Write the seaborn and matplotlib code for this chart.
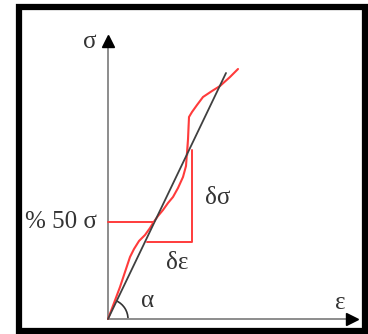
import numpy as np
import pandas as pd
import matplotlib
matplotlib.use('Agg')
import matplotlib.pyplot as plt
from matplotlib.patches import Rectangle, Arc
import seaborn as sns

# curva tensão-deformação
eps_curva = [0, 6, 12, 17, 22, 26, 31, 37, 42, 45, 50, 55, 60, 65, 70, 75, 78, 80,
             80, 80, 81, 84, 89, 95, 104, 112, 122, 130]
sig_curva = [0, 16, 32, 47, 62, 70, 78, 84, 91, 96, 103, 109, 116, 122, 131, 142, 153, 164,
             180, 195, 202, 207, 214, 222, 228, 233, 242, 250]

# reta secante a partir da origem
eps_reta = [0, 118]
sig_reta = [0, 246]

# 50 % da tensão e triângulo δσ / δε
sig_50 = 97
eps_50 = 45
eps_tri = [39, 84, 84]
sig_tri = [77, 77, 169]

sns.set_style('white')
plt.rcParams['font.family'] = ['Liberation Serif', 'DejaVu Serif']

fig = plt.figure(figsize=(3.68, 3.34), dpi=100)
ax = fig.add_axes([0, 0, 1, 1])
ax.set_xlim(-108, 260)
ax.set_ylim(-15, 319)
ax.axis('off')

# moldura
ax.add_patch(Rectangle((-89, -12), 346, 324, fill=False, ec='black', lw=4.5))

# eixos
cinza = '#8c8c8c'
ax.plot([0, 0], [0, 276], color=cinza, lw=1.4)
ax.plot([0, 240], [0, 0], color=cinza, lw=1.4)
ax.plot([0], [278], marker='^', color='black', ms=8)
ax.plot([244], [0], marker='>', color='black', ms=8)

vermelho = '#ff3b3b'
df = pd.DataFrame({'eps': eps_curva, 'sig': sig_curva})
sns.lineplot(data=df, x='eps', y='sig', sort=False, color=vermelho, lw=1.5, ax=ax)
sns.lineplot(x=eps_reta, y=sig_reta, color='#404040', lw=1.3, ax=ax)
ax.plot([0, eps_50], [sig_50, sig_50], color=vermelho, lw=1.4)
ax.plot(eps_tri, sig_tri, color=vermelho, lw=1.4)

# ângulo alfa
ax.add_patch(Arc((0, 0), 40, 40, theta1=0, theta2=64, color='#333333', lw=1.2))

fs = 18
cor_txt = '#333333'
ax.text(-18, 277, 'σ', fontsize=fs, ha='center', va='center', color=cor_txt)
ax.text(232, 16, 'ε', fontsize=fs, ha='center', va='center', color=cor_txt)
ax.text(110, 121, 'δσ', fontsize=fs, ha='center', va='center', color=cor_txt)
ax.text(69, 56, 'δε', fontsize=fs, ha='center', va='center', color=cor_txt)
ax.text(40, 18, 'α', fontsize=fs, ha='center', va='center', color=cor_txt)
ax.text(-11, sig_50, '% 50 σ', fontsize=fs, ha='right', va='center', color=cor_txt)

fig.savefig('out.png', dpi=100)
